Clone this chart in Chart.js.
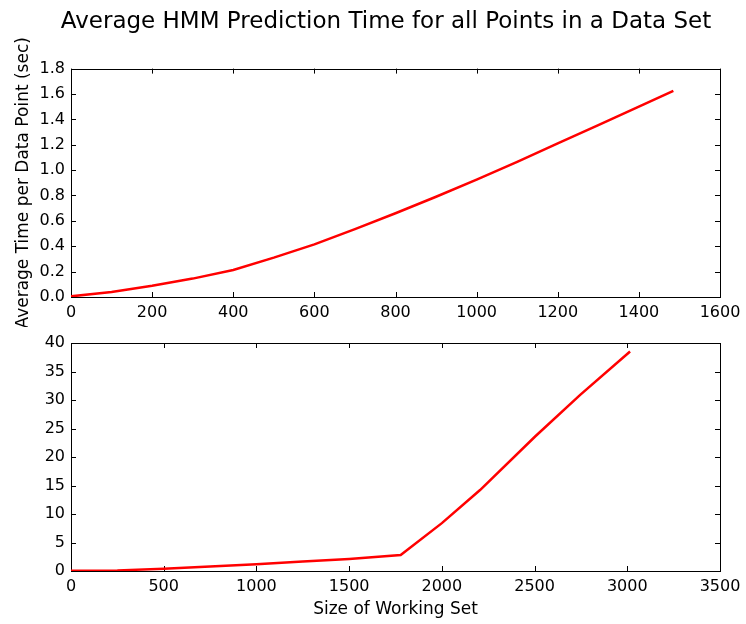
<!DOCTYPE html>
<html>
<head>
<meta charset="utf-8">
<script src="https://cdn.jsdelivr.net/npm/chart.js@4/dist/chart.umd.min.js"></script>
<style>
  html, body { margin: 0; padding: 0; background: #fff; overflow: hidden; }
  body { width: 746px; height: 624px; position: relative; }
  canvas { position: absolute; left: 0; }
  #topChart { top: 0; }
  #bottomChart { top: 320px; }
</style>
</head>
<body>
<canvas id="topChart" width="772" height="327"></canvas>
<canvas id="bottomChart" width="772" height="304"></canvas>
<script>
const chartTitle = "Average HMM Prediction Time for all Points in a Data Set";
const yLabel = "Average Time per Data Point (sec)";
const xLabel = "Size of Working Set";

// upper panel
const topSizes = [0, 100, 200, 300, 400, 500, 600, 700, 800, 900, 1000, 1100, 1200, 1300, 1400, 1485];
const topTimes = [0.005, 0.04, 0.088, 0.145, 0.213, 0.31, 0.415, 0.535, 0.66, 0.79, 0.925, 1.065, 1.21, 1.355, 1.5, 1.625];
const topXTicks = [0, 1600, 200];
const topYTicks = [0, 1.8, 0.2];

// lower panel
const bottomSizes = [0, 250, 500, 750, 1000, 1250, 1500, 1778, 2000, 2206, 2503, 2746, 3015];
const bottomTimes = [0.05, 0.1, 0.4, 0.8, 1.2, 1.65, 2.1, 2.8, 8.4, 14.2, 23.6, 30.9, 38.5];
const bottomXTicks = [0, 3500, 500];
const bottomYTicks = [0, 40, 5];

const FONT = "'DejaVu Sans', sans-serif";

// matplotlib-style box with inward ticks on all four sides
const frameTicks = {
  id: "frameTicks",
  beforeDatasetsDraw(chart) {
    const { ctx, chartArea: a, scales } = chart;
    const len = 5;
    ctx.save();
    ctx.strokeStyle = "#000";
    ctx.lineWidth = 1;
    ctx.beginPath();
    scales.x.ticks.forEach((t, i) => {
      const px = Math.round(scales.x.getPixelForTick(i)) + 0.5;
      ctx.moveTo(px, a.bottom);
      ctx.lineTo(px, a.bottom - len);
      ctx.moveTo(px, a.top);
      ctx.lineTo(px, a.top + len);
    });
    scales.y.ticks.forEach((t, i) => {
      const py = Math.round(scales.y.getPixelForTick(i)) + 0.5;
      ctx.moveTo(a.left, py);
      ctx.lineTo(a.left + len, py);
      ctx.moveTo(a.right, py);
      ctx.lineTo(a.right - len, py);
    });
    ctx.stroke();
    ctx.strokeRect(Math.round(a.left) + 0.5, Math.round(a.top) + 0.5,
      Math.round(a.right - a.left), Math.round(a.bottom - a.top));
    ctx.restore();
  },
};

function makePoints(xs, ys) {
  return xs.map((x, i) => ({ x, y: ys[i] }));
}

function axis(range, opts) {
  const [min, max, step] = range;
  return {
    type: "linear",
    min,
    max,
    grid: { display: false, drawTicks: false },
    border: { display: false },
    ticks: {
      stepSize: step,
      color: "#000",
      font: { family: FONT, size: 16 },
      ...opts.ticks,
    },
    title: opts.title || { display: false },
    afterFit: opts.afterFit,
  };
}

function createChart(id, xs, ys, xRange, yRange, cfg) {
  const ctx = document.getElementById(id).getContext("2d");
  return new Chart(ctx, {
    type: "line",
    data: {
      datasets: [
        {
          data: makePoints(xs, ys),
          borderColor: "#ff0000",
          borderWidth: 2.5,
          pointRadius: 0,
          tension: 0,
          fill: false,
        },
      ],
    },
    options: {
      responsive: false,
      animation: false,
      devicePixelRatio: 1,
      layout: { padding: cfg.padding },
      plugins: {
        legend: { display: false },
        tooltip: { enabled: false },
        title: cfg.title || { display: false },
      },
      scales: {
        x: axis(xRange, {
          ticks: { padding: 6, maxRotation: 0, callback: (v) => String(v) },
          title: cfg.xTitle,
          afterFit: (s) => {
            s.height = cfg.xHeight;
            s.paddingRight = 52;
            s.paddingLeft = 0;
          },
        }),
        y: axis(yRange, {
          ticks: {
            padding: 6,
            callback: cfg.yFormat,
          },
          title: cfg.yTitle,
          afterFit: (s) => {
            s.width = 71;
          },
        }),
      },
    },
    plugins: [frameTicks],
  });
}

createChart("topChart", topSizes, topTimes, topXTicks, topYTicks, {
  padding: 0,
  xHeight: 30,
  yFormat: (v) => v.toFixed(1),
  title: {
    display: true,
    text: chartTitle,
    color: "#000",
    font: { family: FONT, size: 23, weight: "normal" },
    padding: { top: 8, bottom: 33 },
  },
  yTitle: {
    display: true,
    text: yLabel,
    color: "#000",
    font: { family: FONT, size: 17 },
    padding: { top: 13, bottom: 0 },
  },
});

createChart("bottomChart", bottomSizes, bottomTimes, bottomXTicks, bottomYTicks, {
  padding: { top: 23 },
  xHeight: 53,
  yFormat: (v) => String(v),
  xTitle: {
    display: true,
    text: xLabel,
    color: "#000",
    font: { family: FONT, size: 17 },
    padding: { top: 0, bottom: 4 },
  },
});
</script>
</body>
</html>
